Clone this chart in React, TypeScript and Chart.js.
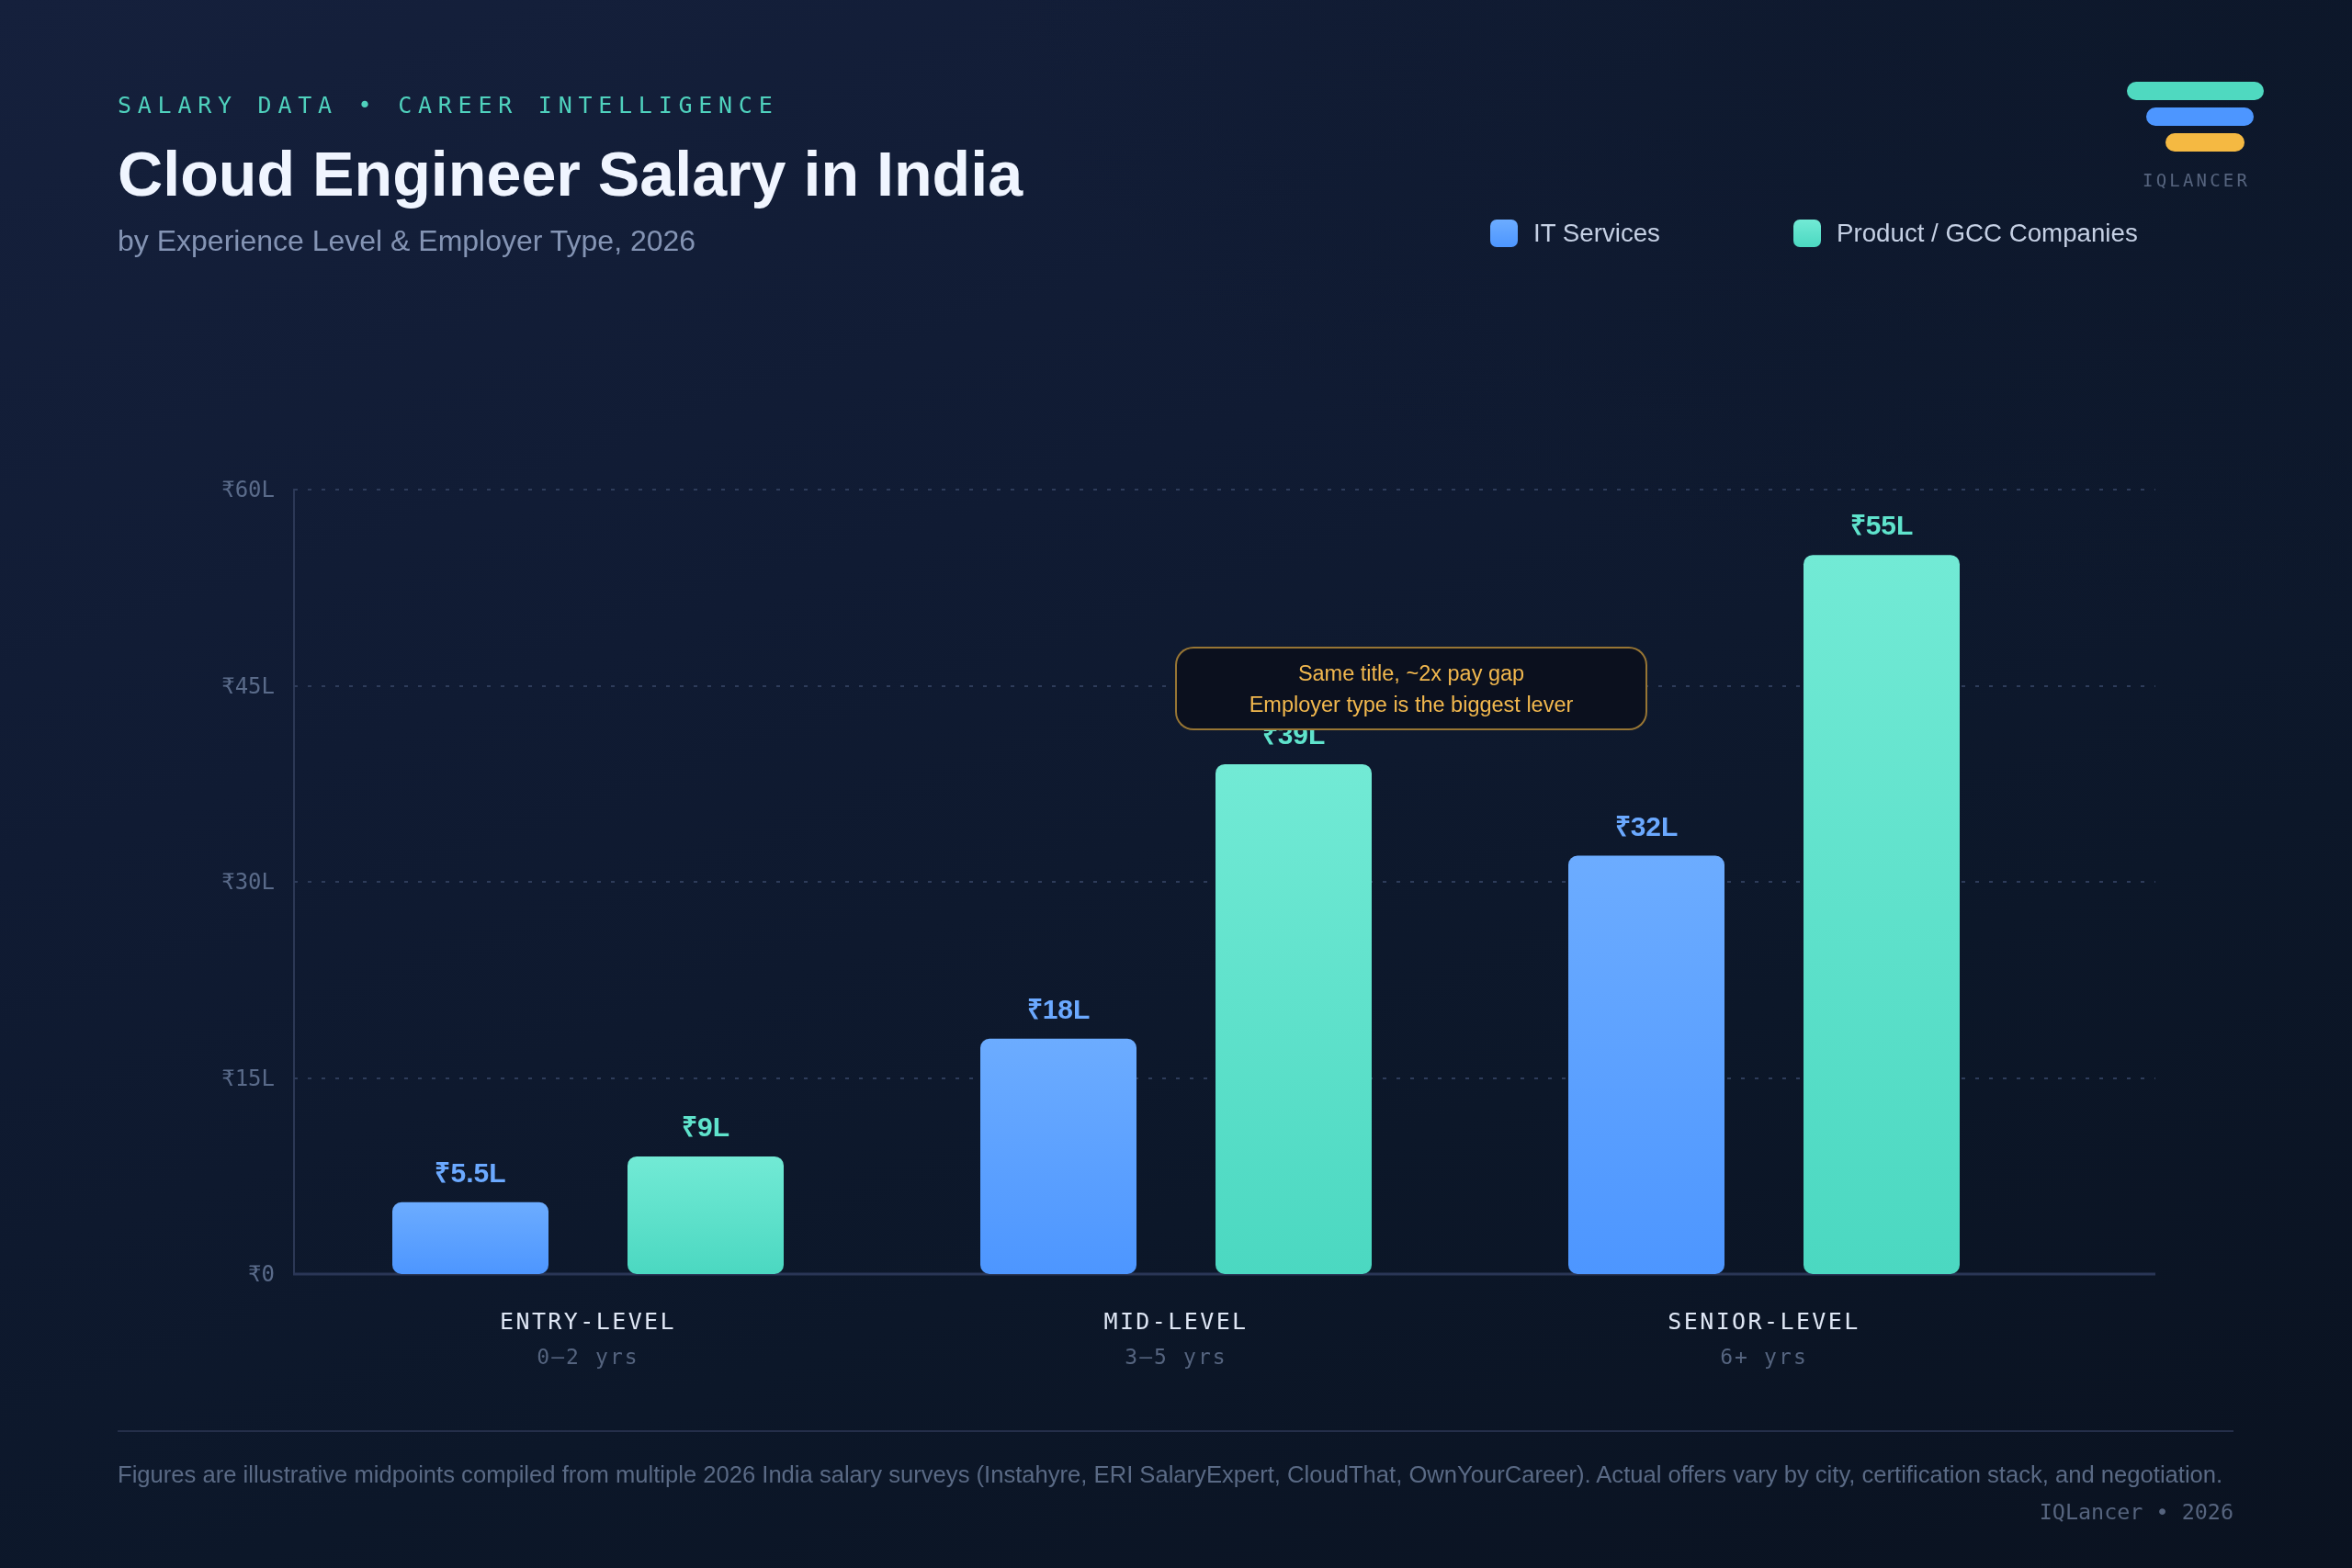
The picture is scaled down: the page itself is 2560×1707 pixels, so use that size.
import React, { useEffect, useRef } from "react";
import Chart from "chart.js/auto";

const levels = ["ENTRY-LEVEL", "MID-LEVEL", "SENIOR-LEVEL"];
const experience = ["0–2 yrs", "3–5 yrs", "6+ yrs"];
const itServices = [5.5, 18, 32];
const productGcc = [9, 39, 55];
const itLabels = ["₹5.5L", "₹18L", "₹32L"];
const productLabels = ["₹9L", "₹39L", "₹55L"];
const yTickValues = [0, 15, 30, 45, 60];
const yTickLabels = ["₹0", "₹15L", "₹30L", "₹45L", "₹60L"];

const SANS = '"Liberation Sans", Arial, sans-serif';
const MONO = '"DejaVu Sans Mono", monospace';
const GRID_RIGHT = 2346;

const blueGrad = ["#6CACFF", "#4D96FF"];
const greenGrad = ["#72EAD5", "#4BD8C1"];

function barFill(stops: string[]) {
  return (c: any) => {
    const { chart, raw } = c;
    const y = chart.scales?.y;
    if (!y || raw == null) return stops[1];
    const y0 = y.getPixelForValue(raw);
    const y1 = y.getPixelForValue(0);
    if (!Number.isFinite(y0) || !Number.isFinite(y1)) return stops[1];
    const g = chart.ctx.createLinearGradient(0, y0, 0, y1);
    g.addColorStop(0, stops[0]);
    g.addColorStop(1, stops[1]);
    return g;
  };
}

const gridPlugin = {
  id: "extendedGrid",
  beforeDatasetsDraw(chart: any) {
    const { ctx, scales } = chart;
    const left = scales.x.left;
    ctx.save();
    ctx.lineWidth = 2;
    ctx.strokeStyle = "#2e3c5a";
    ctx.setLineDash([4, 11]);
    yTickValues.slice(1).forEach((v) => {
      const y = Math.round(scales.y.getPixelForValue(v));
      ctx.beginPath();
      ctx.moveTo(left, y);
      ctx.lineTo(GRID_RIGHT, y);
      ctx.stroke();
    });
    ctx.setLineDash([]);
    ctx.strokeStyle = "#2a3656";
    ctx.lineWidth = 3;
    const y0 = Math.round(scales.y.getPixelForValue(0));
    ctx.beginPath();
    ctx.moveTo(left - 1, y0);
    ctx.lineTo(GRID_RIGHT, y0);
    ctx.stroke();
    ctx.restore();
  },
};

const labelPlugin = {
  id: "valueAndCategoryLabels",
  afterDatasetsDraw(chart: any) {
    const { ctx, scales } = chart;
    ctx.save();
    ctx.textAlign = "center";
    ctx.textBaseline = "alphabetic";
    ctx.font = `bold 30px ${SANS}`;
    const sets = [
      { idx: 0, labels: itLabels, color: "#6BA9FF" },
      { idx: 1, labels: productLabels, color: "#5FE3CC" },
    ];
    sets.forEach((s) => {
      ctx.fillStyle = s.color;
      chart.getDatasetMeta(s.idx).data.forEach((bar: any, i: number) => {
        ctx.fillText(s.labels[i], bar.x, bar.y - 22);
      });
    });
    levels.forEach((name, i) => {
      const x = scales.x.getPixelForTick(i);
      ctx.font = `25px ${MONO}`;
      (ctx as any).letterSpacing = "2.4px";
      ctx.fillStyle = "#dfe7f5";
      ctx.fillText(name, x, 1447);
      ctx.font = `23px ${MONO}`;
      (ctx as any).letterSpacing = "2.1px";
      ctx.fillStyle = "#55647f";
      ctx.fillText(experience[i], x, 1485);
    });
    (ctx as any).letterSpacing = "0px";
    ctx.restore();
  },
};

const abs = (o: React.CSSProperties): React.CSSProperties => ({
  position: "absolute",
  whiteSpace: "nowrap",
  margin: 0,
  ...o,
});

export default function App() {
  const ref = useRef<HTMLCanvasElement>(null);
  useEffect(() => {
    const chart = new Chart(ref.current!, {
      type: "bar",
      data: {
        labels: levels,
        datasets: [
          {
            label: "IT Services",
            data: itServices,
            backgroundColor: barFill(blueGrad) as any,
            borderRadius: 10,
            borderSkipped: false,
            categoryPercentage: 0.8,
            barPercentage: 170 / 256,
          },
          {
            label: "Product / GCC Companies",
            data: productGcc,
            backgroundColor: barFill(greenGrad) as any,
            borderRadius: 10,
            borderSkipped: false,
            categoryPercentage: 0.8,
            barPercentage: 170 / 256,
          },
        ],
      },
      options: {
        responsive: false,
        animation: false,
        devicePixelRatio: 1,
        layout: { padding: { left: 200, top: 533, right: 320, bottom: 220 } },
        plugins: { legend: { display: false }, tooltip: { enabled: false } },
        scales: {
          x: {
            grid: { display: false },
            border: { display: false },
            ticks: { display: false },
            afterFit: (s: any) => {
              s.height = 100;
            },
          },
          y: {
            min: 0,
            max: 60,
            grid: { display: false },
            border: { display: true, color: "#2c3856", width: 2 },
            afterFit: (s: any) => {
              s.width = 120;
            },
            afterBuildTicks: (s: any) => {
              s.ticks = yTickValues.map((value) => ({ value }));
            },
            ticks: {
              padding: 13,
              labelOffset: 2,
              color: "#5a6b8a",
              font: { family: '"DejaVu Sans Mono", monospace', size: 24 },
              callback: (v: any) => yTickLabels[yTickValues.indexOf(v)],
            },
          },
        },
      },
      plugins: [gridPlugin, labelPlugin],
    } as any);
    return () => chart.destroy();
  }, []);

  return (
    <div
      style={{
        position: "absolute",
        left: 0,
        top: 0,
        width: 2560,
        height: 1707,
        overflow: "hidden",
        fontFamily: SANS,
        background:
          "radial-gradient(ellipse 1500px 700px at 100% 0%, rgba(10,20,34,0.55), rgba(10,20,34,0) 100%), linear-gradient(160deg, #15203c 0%, #101b33 36%, #0c1729 68%, #0a1220 100%)",
      }}
    >
      <canvas ref={ref} width={2560} height={1707} style={{ position: "absolute", left: 0, top: 0, display: "block" }} />

      <div style={abs({ left: 128, top: 100, lineHeight: "30px", fontFamily: MONO, fontSize: 25, letterSpacing: 6.75, color: "#4fd1bd" })}>
        SALARY DATA • CAREER INTELLIGENCE
      </div>
      <h1 style={abs({ left: 128, top: 149, lineHeight: "80px", fontSize: 68.2, fontWeight: 700, color: "#f0f5ff" })}>
        Cloud Engineer Salary in India
      </h1>
      <div style={abs({ left: 128, top: 240, lineHeight: "44px", fontSize: 32, color: "#8494b4" })}>
        by Experience Level &amp; Employer Type, 2026
      </div>

      <div style={abs({ left: 2315, top: 89, width: 149, height: 20, borderRadius: 10, background: "#4fd9c0" })} />
      <div style={abs({ left: 2336, top: 117, width: 117, height: 20, borderRadius: 10, background: "#4d96ff" })} />
      <div style={abs({ left: 2357, top: 145, width: 86, height: 20, borderRadius: 10, background: "#f5b942" })} />
      <div style={abs({ left: 2332, top: 184, lineHeight: "24px", fontFamily: MONO, fontSize: 19, letterSpacing: 3.2, color: "#56647e" })}>
        IQLANCER
      </div>

      <div style={abs({ left: 1622, top: 239, width: 30, height: 30, borderRadius: 7, background: `linear-gradient(180deg, ${blueGrad[0]}, ${blueGrad[1]})` })} />
      <div style={abs({ left: 1669, top: 236, lineHeight: "36px", fontSize: 27.7, color: "#c5d0e4" })}>IT Services</div>
      <div style={abs({ left: 1952, top: 239, width: 30, height: 30, borderRadius: 7, background: `linear-gradient(180deg, ${greenGrad[0]}, ${greenGrad[1]})` })} />
      <div style={abs({ left: 1999, top: 236, lineHeight: "36px", fontSize: 27.7, color: "#c5d0e4" })}>Product / GCC Companies</div>

      <div
        style={abs({
          left: 1279,
          top: 704,
          width: 514,
          height: 91,
          boxSizing: "border-box",
          border: "2px solid rgba(245,185,66,0.6)",
          borderRadius: 20,
          background: "#0b101e",
          color: "#f2b84e",
          fontSize: 23.5,
          lineHeight: "34px",
          textAlign: "center",
          paddingTop: 10,
        })}
      >
        Same title, ~2x pay gap
        <br />
        Employer type is the biggest lever
      </div>

      <div style={abs({ left: 128, top: 1557, width: 2303, height: 2, background: "#252f4a" })} />
      <div style={abs({ left: 128, top: 1589, lineHeight: "32px", fontSize: 25.6, color: "#5a6a85" })}>
        Figures are illustrative midpoints compiled from multiple 2026 India salary surveys (Instahyre, ERI SalaryExpert, CloudThat, OwnYourCareer). Actual offers vary by city, certification stack, and negotiation.
      </div>
      <div style={abs({ right: 129, top: 1631, lineHeight: "30px", fontFamily: MONO, fontSize: 23.4, color: "#56647e" })}>
        IQLancer • 2026
      </div>
    </div>
  );
}
